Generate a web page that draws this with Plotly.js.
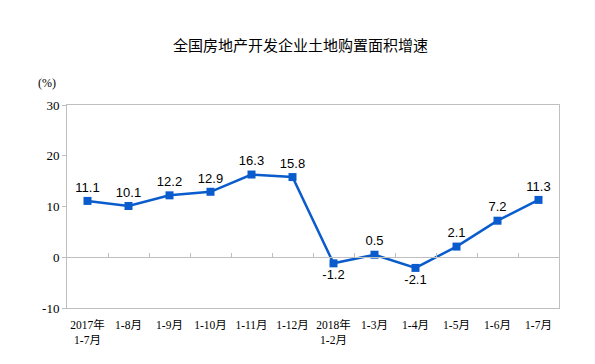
<!DOCTYPE html>
<html><head><meta charset="utf-8">
<script src="https://cdn.plot.ly/plotly-3.0.1.min.js"></script>
<style>html,body{margin:0;padding:0;background:#fff}</style>
</head><body>
<div id="chart" style="width:595px;height:364px"></div>
<script>
const categories = ["2017年<br>1-7月","1-8月","1-9月","1-10月","1-11月","1-12月","2018年<br>1-2月","1-3月","1-4月","1-5月","1-6月","1-7月"];
const values = [11.1, 10.1, 12.2, 12.9, 16.3, 15.8, -1.2, 0.5, -2.1, 2.1, 7.2, 11.3];
const labelText = ["11.1","10.1","12.2","12.9","16.3","15.8","-1.2","0.5","-2.1","2.1","7.2","11.3"];
const yTicks = [-10, 0, 10, 20, 30];

const idx = categories.map((c, i) => i);
const boundaries = categories.slice(1).map((c, i) => i + 0.5);
const textPos = values.map(v => v < 0 ? "bottom center" : "top center");
const serif = "Liberation Serif, 'Times New Roman', 'Noto Sans CJK SC', serif";

const trace = {
  x: idx, y: values, type: "scatter", mode: "lines+markers+text",
  text: labelText, textposition: textPos,
  textfont: {family: "Liberation Sans, Arial, sans-serif", size: 13, color: "#000"},
  line: {color: "#0a5ccc", width: 2.5},
  marker: {symbol: "square", size: 8, color: "#0a5ccc"},
  cliponaxis: false, hoverinfo: "skip", showlegend: false
};
const axisTrace = {x: [0], y: [0], xaxis: "x2", type: "scatter", mode: "markers",
  marker: {opacity: 0}, showlegend: false, hoverinfo: "skip"};

const layout = {
  width: 595, height: 364,
  margin: {l: 67, r: 36, t: 105, b: 56},
  paper_bgcolor: "#fff", plot_bgcolor: "#fff",
  title: {text: "全国房地产开发企业土地购置面积增速", x: 0.505, xanchor: "center", y: 0.875, yanchor: "middle",
    font: {family: "'Noto Sans CJK SC', sans-serif", size: 15, color: "#000"}},
  xaxis: {range: [-0.5, 11.5], tickmode: "array", tickvals: idx, ticktext: categories,
    showline: true, mirror: true, linecolor: "#bfbfbf", linewidth: 1,
    ticks: "outside", ticklen: 6, tickcolor: "rgba(0,0,0,0)", showgrid: false, zeroline: false,
    tickfont: {family: serif, size: 11.5, color: "#000"}, fixedrange: true},
  xaxis2: {range: [-0.5, 11.5], overlaying: "x", anchor: "free", position: 0.25, side: "bottom",
    showline: true, linecolor: "#bfbfbf", linewidth: 1, tickmode: "array", tickvals: boundaries,
    ticks: "inside", ticklen: 4, tickcolor: "#bfbfbf", showticklabels: false, showgrid: false, zeroline: false},
  yaxis: {range: [-10, 30], tickmode: "array", tickvals: yTicks, ticktext: yTicks.map(String),
    showline: true, mirror: true, linecolor: "#bfbfbf", linewidth: 1,
    ticks: "outside", ticklen: 4, tickcolor: "#bfbfbf", showgrid: false, zeroline: false,
    tickfont: {family: serif, size: 13, color: "#000"}, fixedrange: true},
  annotations: [{text: "(%)", xref: "paper", yref: "paper", x: -0.04, y: 1.11, xanchor: "center", yanchor: "middle",
    showarrow: false, font: {family: serif, size: 12, color: "#000"}}]
};
Plotly.newPlot("chart", [trace, axisTrace], layout, {displayModeBar: false, staticPlot: true});
</script>
</body></html>
